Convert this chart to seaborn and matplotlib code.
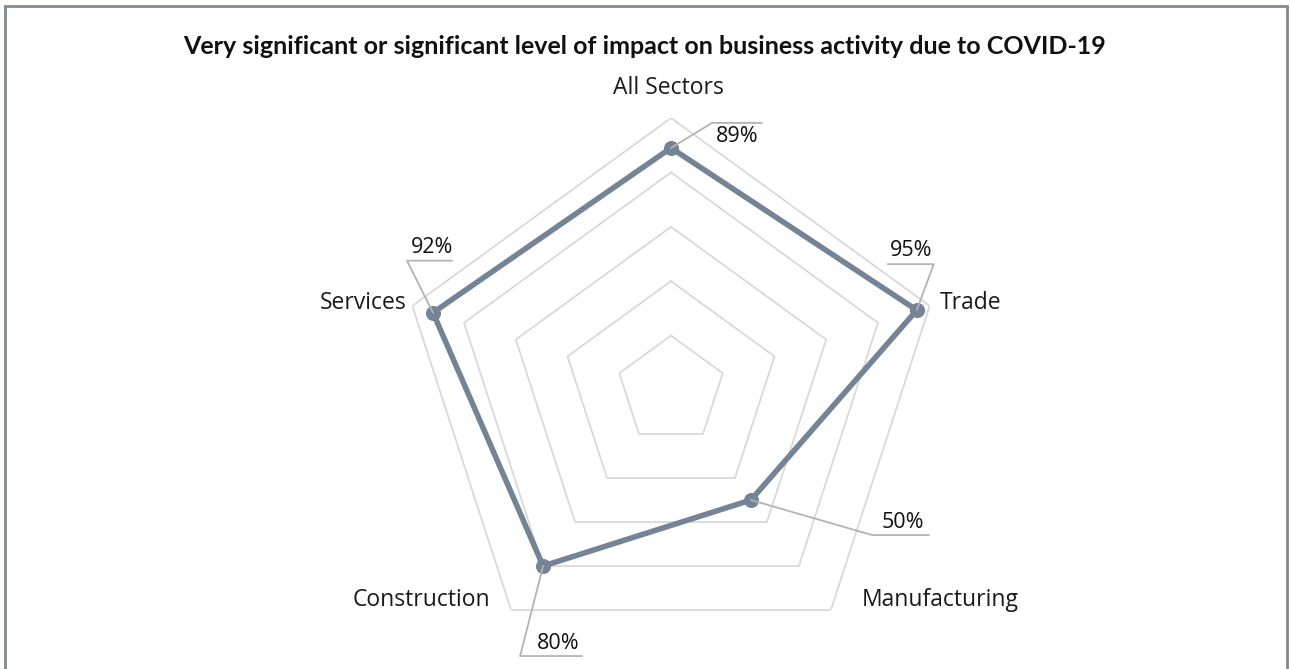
import numpy as np
import pandas as pd
import matplotlib
matplotlib.use("Agg")
import matplotlib.pyplot as plt
from matplotlib.lines import Line2D
from matplotlib.patches import Rectangle
import seaborn as sns

# Share of firms reporting a very significant or significant impact
categories = ["All Sectors", "Trade", "Manufacturing", "Construction", "Services"]
values = [89, 95, 50, 80, 92]
value_labels = ["89%", "95%", "50%", "80%", "92%"]
grid_levels = [20, 40, 60, 80, 100]

title = "Very significant or significant level of impact on business activity due to COVID-19"

sns.set_theme(style="white")
plt.rcParams["font.family"] = ["Open Sans", "DejaVu Sans"]

W, H = 1290, 669
fig = plt.figure(figsize=(W / 100, H / 100), dpi=100)
fig.patch.set_facecolor("white")

# polar axes centred on the pentagon, radius 272 px for 100 %
cx, cy, R = 671, 390, 272
ax = fig.add_axes([(cx - R) / W, (H - cy - R) / H, 2 * R / W, 2 * R / H],
                  projection="polar")
ax.set_theta_zero_location("N")
ax.set_theta_direction(-1)
ax.grid(False)
ax.spines["polar"].set_visible(False)
ax.patch.set_alpha(0)

n = len(categories)
theta = np.deg2rad(np.arange(n) * 360 / n)
theta_closed = np.append(theta, theta[0])

# pentagon grid rings
for lvl in grid_levels:
    ax.plot(theta_closed, [lvl] * (n + 1), color="#d9d9d9", lw=1.3, zorder=1)

df = pd.DataFrame({"theta": theta_closed, "value": values + values[:1]})
line_color = "#748494"
sns.lineplot(data=df, x="theta", y="value", sort=False, estimator=None,
             ax=ax, color=line_color, lw=4.0, zorder=3)
sns.scatterplot(x=theta, y=values, ax=ax, color=line_color, s=100,
                edgecolor=line_color, zorder=4)
for l in ax.lines:
    l.set_solid_joinstyle("round")
ax.set_xlabel("")
ax.set_ylabel("")
ax.set_xticks([])
ax.set_yticks([])
ax.set_ylim(0, 100)

# category labels just outside the outer ring
cat_offsets = {
    "All Sectors": ((-3, 30), "center", "center"),
    "Trade": ((10, 3), "left", "center"),
    "Manufacturing": ((31, 10), "left", "center"),
    "Construction": ((-21, 10), "right", "center"),
    "Services": ((-6, 3), "right", "center"),
}
for t, cat in zip(theta, categories):
    (dx, dy), ha, va = cat_offsets[cat]
    ax.annotate(cat, xy=(t, 100), xytext=(dx, dy), textcoords="offset pixels",
                ha=ha, va=va, fontsize=16.5, color="#1a1a1a")

# value call-outs with elbow leader lines (pixel offsets from each point)
callouts = [
    [(41, 25), (91, 25), (66, 22), "top"],
    [(17, 46), (-29, 46), (-6, 49), "bottom"],
    [(121, -35), (178, -35), (152, -33), "bottom"],
    [(-23, -90), (39, -90), (15, -88), "bottom"],
    [(-26, 52), (19, 52), (-1, 55), "bottom"],
]
fig.canvas.draw()
to_fig = fig.transFigure.inverted()
for t, v, lab, (elbow, end, txt, va) in zip(theta, values, value_labels, callouts):
    px, py = ax.transData.transform((t, v))
    pts = np.array([[px, py], [px + elbow[0], py + elbow[1]],
                    [px + end[0], py + end[1]]])
    fpts = to_fig.transform(pts)
    fig.add_artist(Line2D(fpts[:, 0], fpts[:, 1], color="#b3b3b3", lw=1.3,
                          zorder=2))
    tx, ty = to_fig.transform((px + txt[0], py + txt[1]))
    fig.text(tx, ty, lab, ha="center", va=va, fontsize=15.5, color="#111111")

fig.text(645 / W, 1 - 46 / H, title, ha="center", va="center",
         fontsize=18, fontweight="bold", color="#111111",
         family=["Lato", "DejaVu Sans"])

# outer frame
fig.add_artist(Rectangle((5 / W, -0.01), 1282 / W, 1 - 6 / H + 0.01,
                         transform=fig.transFigure, fill=False,
                         edgecolor="#7d8a97", lw=2))

fig.savefig("out.png", dpi=100, facecolor="white")
